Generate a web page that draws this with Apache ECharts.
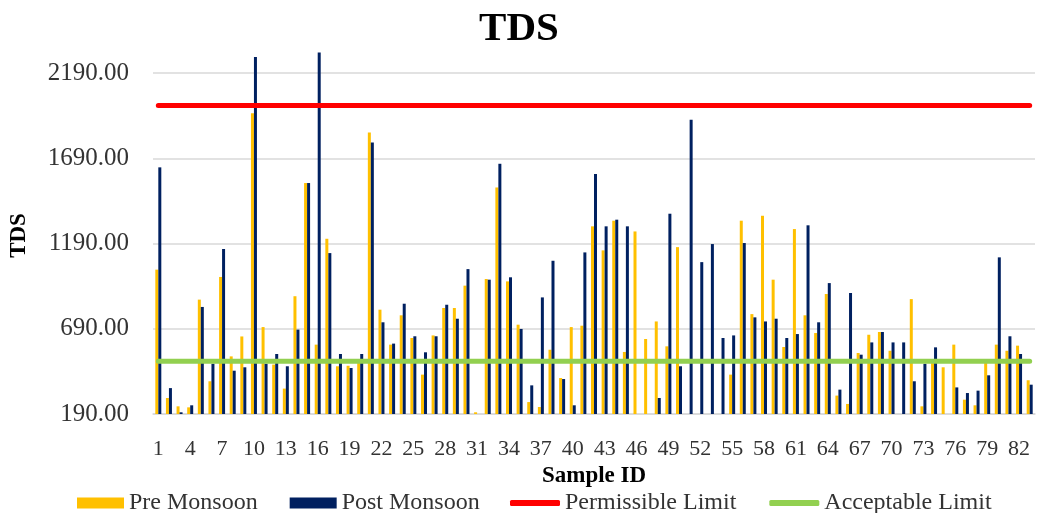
<!DOCTYPE html>
<html>
<head>
<meta charset="utf-8">
<script src="https://cdn.jsdelivr.net/npm/echarts@6/dist/echarts.min.js"></script>
<style>
  html, body { margin: 0; padding: 0; background: #fff; }
  #chart { width: 1038px; height: 513px; }
</style>
</head>
<body>
<div id="chart"></div>
<script>
// sample ids 1..83
const sampleIds = []
for (let i = 1; i <= 83; i++) sampleIds.push(String(i))

// null where no bar is drawn
const preMonsoon = [
  1037, 284, 235, 229, 861, 382, 994, 528, 645, 1955,
  700, 480, 339, 881, 1545, 597, 1218, 470, 473, 489,
  1842, 802, 597, 769, 636, 421, 651, 812, 812, 943,
  200, 982, 1519, 968, 714, 260, 231, 567, 401, 700,
  708, 1291, 1150, 1324, 554, 1261, 630, 733, 587, 1169,
  null, null, null, null, 421, 1324, 776, 1353, 978, 583,
  1275, 769, 665, 894, 298, 249, 548, 655, 671, 561,
  null, 864, 235, 489, 464, 597, 274, 241, 489, 597,
  561, 591, 388
]
const postMonsoon = [
  1637, 342, 200, 241, 818, 485, 1158, 444, 464, 2284,
  485, 542, 470, 685, 1545, 2311, 1134, 542, 460, 542,
  1783, 728, 603, 837, 646, 552, 646, 831, 749, 1040,
  null, 978, 1658, 992, 689, 358, 874, 1089, 395, 241,
  1138, 1598, 1291, 1330, 1291, null, null, 284, 1365, 470,
  1916, 1081, 1187, 636, 651, 1193, 757, 733, 749, 636,
  659, 1297, 728, 958, 333, 900, 538, 610, 671, 610,
  610, 382, 485, 581, null, 346, 313, 327, 417, 1109,
  646, 542, 362
]
const permissibleLimit = 2000
const acceptableLimit = 500

const yTicks = [190, 690, 1190, 1690, 2190]

const chart = echarts.init(document.getElementById('chart'))
const serif = 'Liberation Serif'
const labelColor = '#333'

chart.setOption({
  animation: false,
  title: {
    text: 'TDS',
    left: 'center',
    top: 4,
    textStyle: { fontFamily: serif, fontSize: 41, fontWeight: 'bold', color: '#000' }
  },
  grid: { left: 152, right: 3, top: 39, bottom: 99 },
  legend: [
    {
      left: 72,
      top: 486,
      itemWidth: 47,
      itemHeight: 11,
      itemGap: 32,
      icon: 'rect',
      textStyle: { fontFamily: serif, fontSize: 24, color: labelColor },
      data: ['Pre Monsoon', 'Post Monsoon']
    },
    {
      left: 505,
      top: 486,
      itemWidth: 50,
      itemHeight: 6,
      itemGap: 33,
      icon: 'roundRect',
      textStyle: { fontFamily: serif, fontSize: 24, color: labelColor },
      data: ['Permissible Limit', 'Acceptable Limit']
    }
  ],
  xAxis: {
    type: 'category',
    data: sampleIds,
    name: 'Sample ID',
    nameLocation: 'middle',
    nameGap: 46,
    nameTextStyle: { fontFamily: serif, fontSize: 23, fontWeight: 'bold', color: '#000' },
    axisTick: { show: false },
    axisLine: { lineStyle: { color: '#d9d9d9', width: 1.5 } },
    axisLabel: {
      interval: 2,
      margin: 24,
      fontFamily: serif,
      fontSize: 22,
      color: labelColor
    }
  },
  yAxis: {
    type: 'value',
    min: 190,
    max: 2390,
    interval: 500,
    name: 'TDS',
    nameLocation: 'middle',
    nameGap: 122,
    nameRotate: 90,
    nameTextStyle: { fontFamily: serif, fontSize: 23, fontWeight: 'bold', color: '#000', padding: [0, 18, 0, 0] },
    axisLine: { show: false },
    axisTick: { show: false },
    axisLabel: {
      showMaxLabel: false,
      margin: 24,
      fontFamily: serif,
      fontSize: 25,
      color: labelColor,
      formatter: function (v) { return yTicks.indexOf(v) >= 0 ? v.toFixed(2) : '' }
    },
    splitLine: { showMaxLine: false, lineStyle: { color: '#d9d9d9', width: 1.5 } }
  },
  series: [
    {
      name: 'Pre Monsoon',
      type: 'bar',
      data: preMonsoon,
      barWidth: 3,
      barGap: '0%',
      itemStyle: { color: '#FFC000' }
    },
    {
      name: 'Post Monsoon',
      type: 'bar',
      data: postMonsoon,
      barWidth: 3,
      barGap: '0%',
      itemStyle: { color: '#002060' }
    },
    {
      name: 'Permissible Limit',
      type: 'line',
      data: sampleIds.map(function () { return permissibleLimit }),
      symbol: 'none',
      itemStyle: { color: '#FF0000' },
      lineStyle: { color: '#FF0000', width: 5, cap: 'round' }
    },
    {
      name: 'Acceptable Limit',
      type: 'line',
      data: sampleIds.map(function () { return acceptableLimit }),
      symbol: 'none',
      itemStyle: { color: '#92D050' },
      lineStyle: { color: '#92D050', width: 5, cap: 'round' }
    }
  ]
})
</script>
</body>
</html>
